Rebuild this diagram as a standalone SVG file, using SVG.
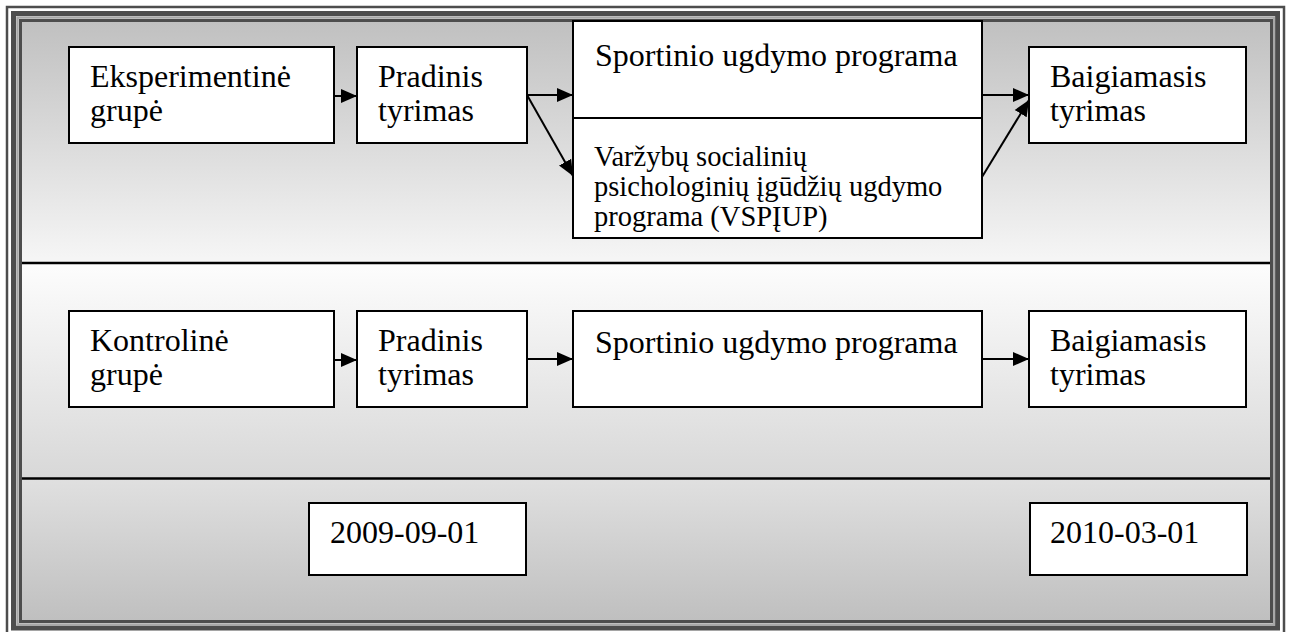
<svg xmlns="http://www.w3.org/2000/svg" width="1290" height="632" viewBox="0 0 1290 632">
<style>
.box{fill:#fff;stroke:#000;stroke-width:2}
.t{font-family:"Liberation Serif","Times New Roman",serif;font-size:32px;fill:#000}
.s{font-family:"Liberation Serif","Times New Roman",serif;font-size:28.5px;fill:#000}
.c{stroke:#000;stroke-width:2;fill:none;marker-end:url(#ah)}
.dark{fill:none;stroke:#4d4d4d}
</style>
<defs>
<linearGradient id="g1" x1="0" y1="0" x2="0" y2="1"><stop offset="0" stop-color="#c0c0c0"/><stop offset="1" stop-color="#f6f6f6"/></linearGradient>
<linearGradient id="g2" x1="0" y1="0" x2="0" y2="1"><stop offset="0" stop-color="#fdfdfd"/><stop offset="1" stop-color="#d8d8d8"/></linearGradient>
<linearGradient id="g3" x1="0" y1="0" x2="0" y2="1"><stop offset="0" stop-color="#e0e0e0"/><stop offset="1" stop-color="#bfbfbf"/></linearGradient>
<marker id="ah" markerUnits="userSpaceOnUse" markerWidth="17" markerHeight="16" viewBox="0 0 17 16" refX="16" refY="8" orient="auto"><path d="M0,1 L16,8 L0,15 Z" fill="#000"/></marker>
</defs>
<g id="background">
<rect x="0" y="0" width="1290" height="632" fill="#fff"/>
<rect x="21" y="21" width="1250" height="242" fill="url(#g1)"/>
<rect x="21" y="263" width="1250" height="215" fill="url(#g2)"/>
<rect x="21" y="478" width="1250" height="144" fill="url(#g3)"/>
<line x1="21" y1="263" x2="1271" y2="263" stroke="#000" stroke-width="2.5"/>
<line x1="21" y1="478.5" x2="1271" y2="478.5" stroke="#000" stroke-width="2.5"/>
</g>
<g id="frame">
<rect class="dark" x="7" y="7" width="1277" height="630" stroke-width="2.5"/>
<rect class="dark" x="13.5" y="13.5" width="1264" height="614.5" stroke-width="5"/>
<rect x="17.5" y="17.5" width="1256.5" height="607" fill="none" stroke="#a8a8a8" stroke-width="2.5"/>
<rect class="dark" x="20.5" y="20.5" width="1251" height="601" stroke-width="3"/>
</g>
<g id="n-eksp"><rect class="box" x="69" y="47" width="265" height="96"/><text class="t" x="90" y="87">Eksperimentinė</text><text class="t" x="90" y="121">grupė</text></g>
<g id="n-prad1"><rect class="box" x="357" y="47" width="170" height="96"/><text class="t" x="378" y="87">Pradinis</text><text class="t" x="378" y="121">tyrimas</text></g>
<g id="n-sport1"><rect class="box" x="573" y="21" width="409" height="97"/><text class="t" x="595" y="66">Sportinio ugdymo programa</text></g>
<g id="n-vspiup"><rect class="box" x="573" y="118" width="409" height="120"/><text class="s" x="594" y="166">Varžybų socialinių</text><text class="s" x="594" y="196">psichologinių įgūdžių ugdymo</text><text class="s" x="594" y="226">programa (VSPĮUP)</text></g>
<g id="n-baig1"><rect class="box" x="1029" y="47" width="217" height="96"/><text class="t" x="1050" y="87">Baigiamasis</text><text class="t" x="1050" y="121">tyrimas</text></g>
<g id="n-kontr"><rect class="box" x="69" y="311" width="265" height="96"/><text class="t" x="90" y="351">Kontrolinė</text><text class="t" x="90" y="385">grupė</text></g>
<g id="n-prad2"><rect class="box" x="357" y="311" width="170" height="96"/><text class="t" x="378" y="351">Pradinis</text><text class="t" x="378" y="385">tyrimas</text></g>
<g id="n-sport2"><rect class="box" x="573" y="311" width="409" height="96"/><text class="t" x="595" y="353">Sportinio ugdymo programa</text></g>
<g id="n-baig2"><rect class="box" x="1029" y="311" width="217" height="96"/><text class="t" x="1050" y="351">Baigiamasis</text><text class="t" x="1050" y="385">tyrimas</text></g>
<g id="n-d1"><rect class="box" x="309" y="503" width="217" height="72"/><text class="t" x="330" y="543">2009-09-01</text></g>
<g id="n-d2"><rect class="box" x="1030" y="503" width="217" height="72"/><text class="t" x="1050" y="543">2010-03-01</text></g>
<g id="connectors">
<line class="c" x1="334" y1="96" x2="357" y2="96"/>
<line class="c" x1="527" y1="95" x2="573" y2="95"/>
<line class="c" x1="527" y1="95" x2="573" y2="176"/>
<line class="c" x1="982" y1="95" x2="1029" y2="95"/>
<line class="c" x1="982" y1="177" x2="1029" y2="100"/>
<line class="c" x1="334" y1="360" x2="357" y2="360"/>
<line class="c" x1="527" y1="359" x2="573" y2="359"/>
<line class="c" x1="982" y1="359" x2="1029" y2="359"/>
</g>
</svg>
